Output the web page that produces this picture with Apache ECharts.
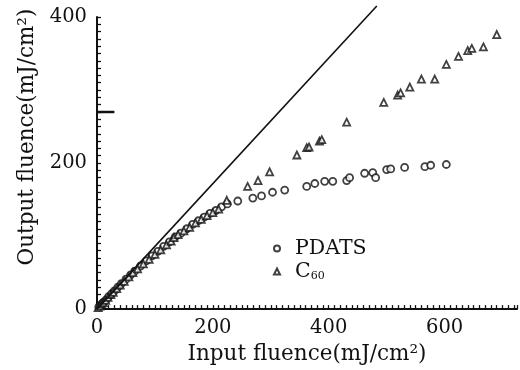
<!DOCTYPE html>
<html><head><meta charset="utf-8">
<script src="https://cdn.jsdelivr.net/npm/echarts@6/dist/echarts.min.js"></script>
<style>html,body{margin:0;padding:0;background:#fff}#c{width:520px;height:370px}</style>
</head><body><div id="c"></div>
<script>
// PDATS data (input fluence, output fluence)
const pdatsX = [3,6,9,12,16,20,25,30,36,42,50,58,65,75,85,95,105,115,125,135,145,155,165,175,185,195,205,215,225,243,269,284,303,324,362,376,393,407,431,436,462,476,481,500,507,531,566,576,603];
const pdatsY = [3,5,8,10,13,17,21,25,30,35,41,47,52,59,66,73,79,86,92,99,104,110,116,121,126,131,135,140,144,148,152,155,160,163,168,172,175,175,176,180,186,187,180,191,192,194,195,197,198];
// C60 data
const c60X = [2,5,8,11,15,19,24,28,34,40,47,55,62,70,80,90,100,110,120,128,133,140,150,160,170,180,190,200,210,224,260,278,298,345,362,366,384,388,431,495,519,524,540,560,583,603,624,640,647,667,690];
const c60Y = [2,4,7,9,12,16,20,23,28,33,38,44,50,55,62,68,75,81,88,93,98,102,107,112,118,123,128,132,137,149,168,176,188,211,221,222,230,232,256,283,293,296,304,315,315,335,346,354,357,359,376];
// reference straight line (linear transmission)
const lineX = [0,483];
const lineY = [0,415];
// stray mark on the y axis
const markX = [0,30];
const markY = [270,270];
const xTicks = [0,200,400,600];
const yTicks = [0,200,400];

const zip = (a,b)=>a.map((v,i)=>[v,b[i]]);
const font = 'DejaVu Serif';
const chart = echarts.init(document.getElementById('c'));
chart.setOption({
  animation:false,
  grid:{left:97, top:17, width:420.5, height:295},
  xAxis:{type:'value', min:0, max:725, interval:10,
    name:'Input fluence(mJ/cm²)', nameLocation:'middle', nameGap:32,
    nameTextStyle:{fontFamily:font, fontSize:21.5, color:'#111'},
    axisLine:{show:true, lineStyle:{color:'#111', width:2}},
    axisTick:{show:true, interval:0, inside:true, length:4, lineStyle:{color:'#111', width:1.3}},
    axisLabel:{margin:9, fontFamily:font, fontSize:19.5, color:'#111',
      formatter:v=> xTicks.includes(v)? String(v):''},
    splitLine:{show:false}},
  yAxis:{type:'value', min:0, max:400, interval:10,
    name:'Output fluence(mJ/cm²)', nameLocation:'middle', nameGap:59, nameRotate:90,
    nameTextStyle:{fontFamily:font, fontSize:21.5, color:'#111', padding:[0,0,0,52]},
    axisLine:{show:true, lineStyle:{color:'#111', width:2}},
    axisTick:{show:true, interval:0, inside:true, length:4, lineStyle:{color:'#111', width:1.3}},
    axisLabel:{margin:10, fontFamily:font, fontSize:19.5, color:'#111',
      formatter:v=> yTicks.includes(v)? String(v):''},
    splitLine:{show:false}},
  legend:{left:268, top:233, orient:'vertical', itemGap:2, itemWidth:6, itemHeight:6,
    data:['PDATS','C60'],
    formatter:n=> n==='C60' ? '{a|C}{b|60}' : '{a|'+n+'}',
    textStyle:{fontFamily:font, fontSize:20, color:'#111', padding:[0,0,0,10],
      rich:{a:{fontFamily:font, fontSize:20.5, color:'#111'},
            b:{fontFamily:font, fontSize:11, color:'#111', verticalAlign:'bottom', padding:[8,0,0,0]}}}},
  series:[
    {type:'line', data:zip(lineX,lineY), clip:false, symbol:'none', silent:true,
     lineStyle:{color:'#111', width:1.6}},
    {type:'line', data:zip(markX,markY), symbol:'none', silent:true,
     lineStyle:{color:'#111', width:2.5}},
    {name:'PDATS', type:'scatter', data:zip(pdatsX,pdatsY), symbol:'circle', symbolSize:7,
     itemStyle:{color:'#fff', borderColor:'#111', borderWidth:1.8}},
    {name:'C60', type:'scatter', data:zip(c60X,c60Y), symbol:'triangle', symbolSize:7,
     itemStyle:{color:'#fff', borderColor:'#111', borderWidth:1.8}}
  ]
});
</script></body></html>
